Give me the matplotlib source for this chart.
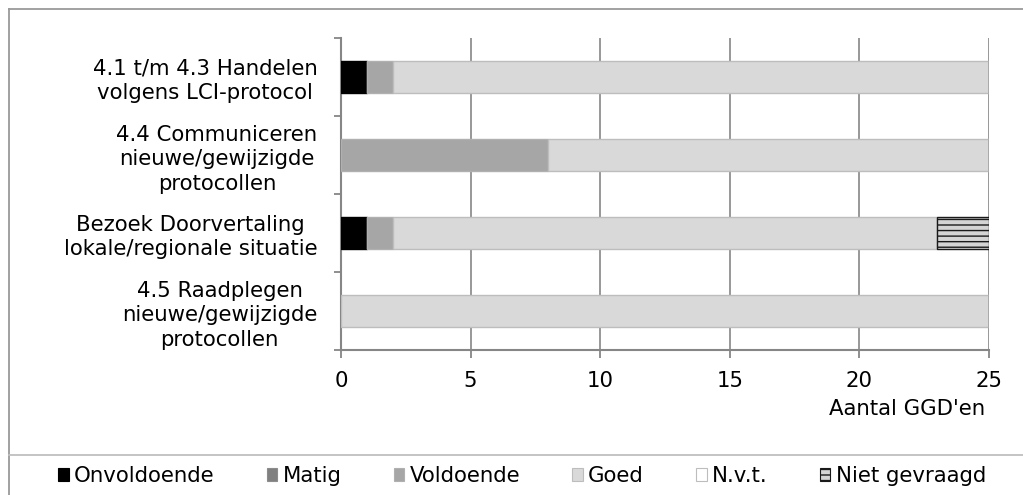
import matplotlib
matplotlib.use("Agg")
import matplotlib.pyplot as plt
from matplotlib.patches import Patch
from matplotlib.lines import Line2D
import numpy as np

plt.rcParams['font.family'] = ['DejaVu Sans']

categories = [
    "4.1 t/m 4.3 Handelen\nvolgens LCI-protocol",
    "4.4 Communiceren\nnieuwe/gewijzigde\nprotocollen",
    "Bezoek Doorvertaling\nlokale/regionale situatie",
    "4.5 Raadplegen\nnieuwe/gewijzigde\nprotocollen",
]
series_names = ["Onvoldoende", "Matig", "Voldoende", "Goed", "N.v.t.", "Niet gevraagd"]
onvoldoende = [1, 0, 1, 0]
matig = [0, 0, 0, 0]
voldoende = [1, 8, 1, 0]
goed = [23, 17, 21, 25]
nvt = [0, 0, 0, 0]
niet_gevraagd = [0, 0, 2, 0]
x_ticks = [0, 5, 10, 15, 20, 25]
x_label = "Aantal GGD'en"

series_values = [onvoldoende, matig, voldoende, goed, nvt, niet_gevraagd]
face = ["#000000", "#808080", "#A6A6A6", "#D9D9D9", "#FFFFFF", "#D4D4D4"]
edge = ["#000000", "#8C8C8C", "#B0B0B0", "#BDBDBD", "#BDBDBD", "#1A1A1A"]
hatches = [None, None, None, None, None, "---"]

FS = 15.3

W, H = 1023, 495
fig = plt.figure(figsize=(W / 100, H / 100), dpi=100)

# outer frames
frame_col = "#9A9A9A"
fig.add_artist(Line2D([9 / W, 9 / W], [0, 1 - 9 / H], transform=fig.transFigure, color=frame_col, lw=1.3))
fig.add_artist(Line2D([9 / W, 1], [1 - 9 / H, 1 - 9 / H], transform=fig.transFigure, color=frame_col, lw=1.3))
fig.add_artist(Line2D([9 / W, 1], [1 - 455 / H, 1 - 455 / H], transform=fig.transFigure, color="#BFBFBF", lw=1.3))

ax = fig.add_axes([341 / W, 1 - 350 / H, (989 - 341) / W, (350 - 38) / H])

n = len(categories)
ypos = np.arange(n)[::-1]
left = np.zeros(n)
for name, vals, fc, ec, ht in zip(series_names, series_values, face, edge, hatches):
    vals = np.array(vals, dtype=float)
    ax.barh(ypos, vals, left=left, height=0.4, color=fc, edgecolor=ec,
            linewidth=1.0, hatch=ht, zorder=3)
    left += vals

ax.set_xlim(0, 25)
ax.set_ylim(-0.5, n - 0.5)
ax.set_xticks(x_ticks)
ax.set_yticks(ypos)
ax.set_yticklabels(categories, multialignment="center", fontsize=FS, linespacing=1.28)
ax.set_yticks(np.arange(-0.5, n, 1.0), minor=True)
ax.tick_params(axis="y", which="major", length=0, pad=17)
ax.tick_params(axis="y", which="minor", length=5, width=1.3, color="#868686", direction="out")
ax.tick_params(axis="x", length=6, width=1.3, color="#868686", direction="out", labelsize=FS, pad=9)

ax.grid(axis="x", color="#868686", linewidth=1.2, zorder=0)
ax.set_axisbelow(True)
for s in ["top", "right"]:
    ax.spines[s].set_visible(False)
for s in ["left", "bottom"]:
    ax.spines[s].set_color("#868686")
    ax.spines[s].set_linewidth(1.5)

fig.text(985 / W, 1 - 409 / H, x_label, ha="right", va="center", fontsize=FS)

handles = [Patch(facecolor=fc, edgecolor=ec if i != 0 else "#000000", hatch=ht, linewidth=0.8)
           for i, (fc, ec, ht) in enumerate(zip(face, edge, hatches))]
handles[4] = Patch(facecolor="#FFFFFF", edgecolor="#BDBDBD", linewidth=0.8)
leg = fig.legend(handles, series_names, loc="center", ncol=6,
                 bbox_to_anchor=(522 / W, 1 - 476 / H), frameon=False, fontsize=FS,
                 handlelength=0.5, handleheight=0.5, handletextpad=0.25,
                 columnspacing=2.45, borderaxespad=0)

fig.savefig("out.png", dpi=100)
